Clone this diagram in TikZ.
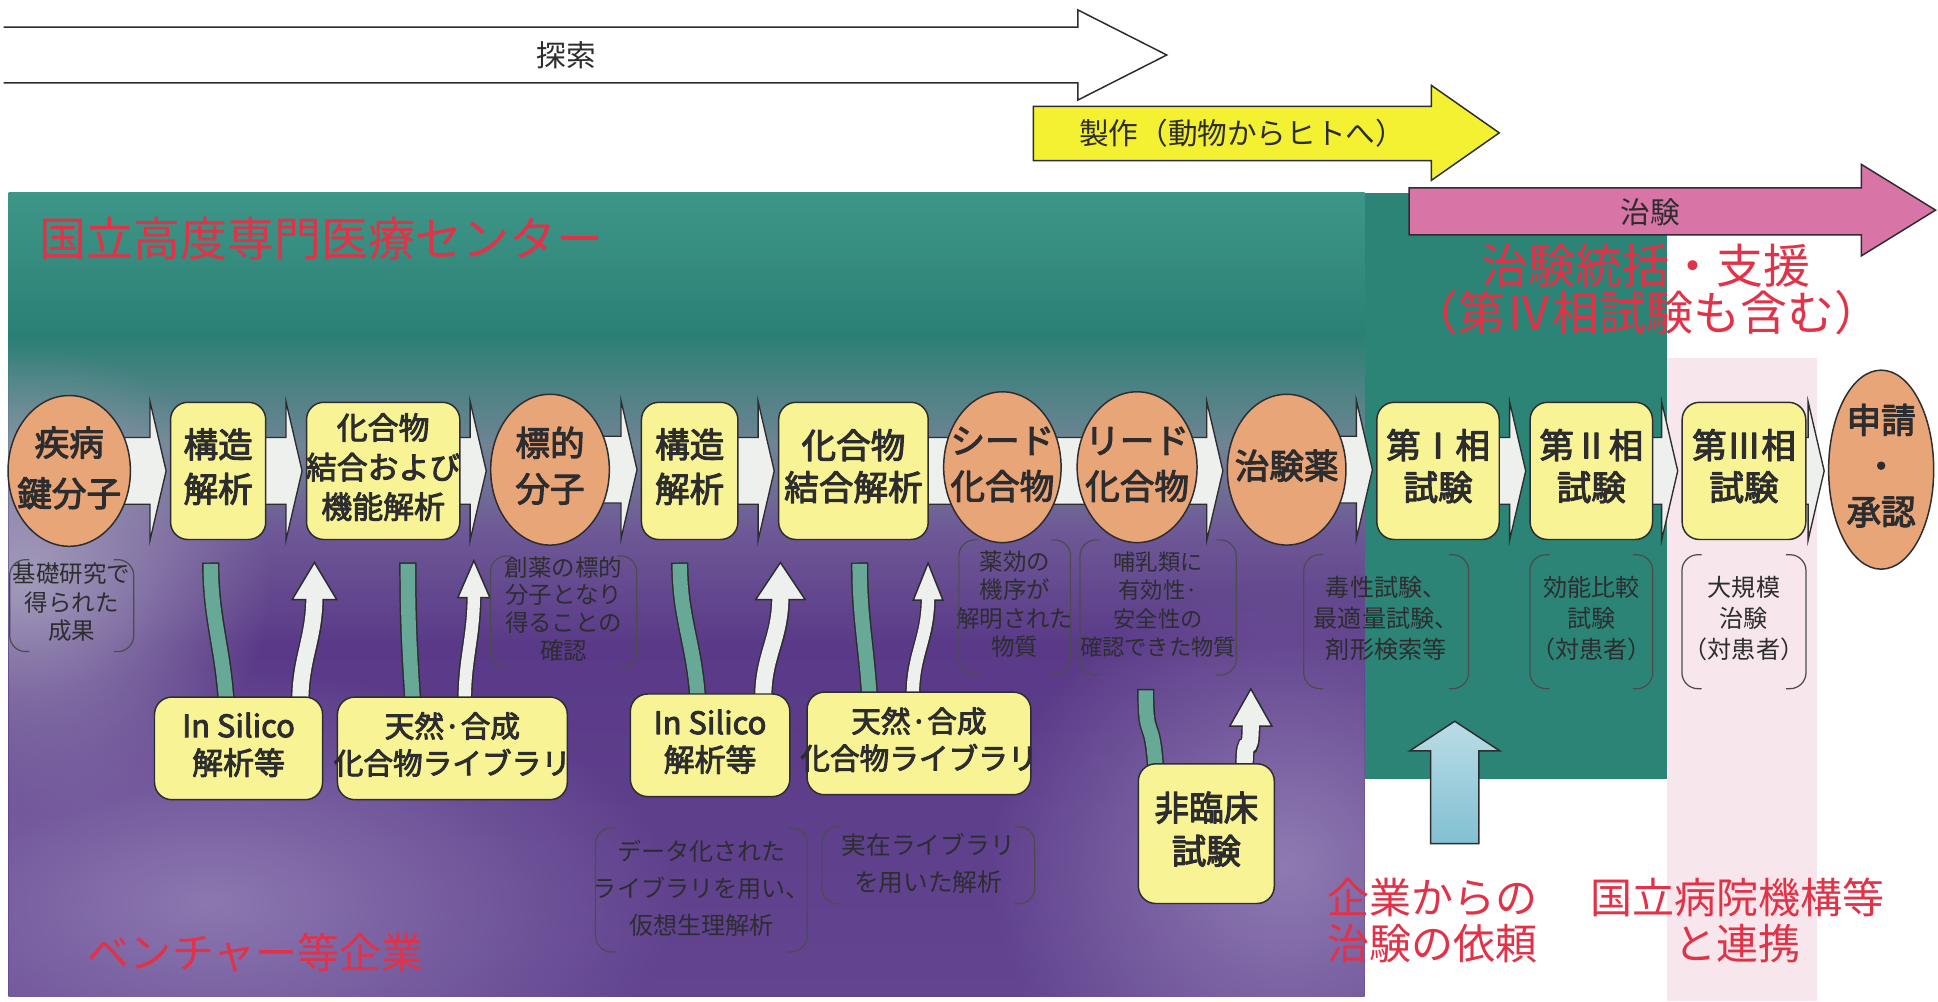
\documentclass[tikz,border=0pt]{standalone}
\usepackage{fontspec}
\newfontfamily\jp{Noto Sans CJK JP}
\newfontfamily\jpm[FakeBold=3]{Noto Sans CJK JP}
\usetikzlibrary{calc,fadings,shapes.geometric}

\definecolor{ink}{RGB}{45,45,48}
\definecolor{tealtop}{RGB}{62,150,136}
\definecolor{tealbg}{RGB}{42,128,116}
\definecolor{graybg}{RGB}{112,132,148}
\definecolor{lavbg}{RGB}{110,88,150}
\definecolor{purpbg}{RGB}{90,58,136}
\definecolor{purpbg2}{RGB}{98,68,144}
\definecolor{lavgray}{RGB}{178,176,198}
\definecolor{lavlt}{RGB}{155,138,188}
\definecolor{tealcol}{RGB}{44,132,118}
\definecolor{pinkbg}{RGB}{247,230,235}
\definecolor{nodeyel}{RGB}{248,244,150}
\definecolor{nodeorg}{RGB}{232,165,120}
\definecolor{arryel}{RGB}{244,240,50}
\definecolor{arrpink}{RGB}{216,116,166}
\definecolor{bandteal}{RGB}{104,168,150}
\definecolor{chevwhite}{RGB}{238,240,238}
\definecolor{reqblue}{RGB}{130,192,210}
\definecolor{redtxt}{RGB}{225,50,72}

\pgfdeclarelayer{back}
\pgfdeclarelayer{mid}
\pgfsetlayers{back,mid,main}

\tikzfading[name=blob, inner color=transparent!0, outer color=transparent!100]

% text block of zero width, so that the shape keeps its own size
\newcommand\ctext[1]{\makebox[0pt]{\begin{tabular}{@{}c@{}}#1\end{tabular}}}
% wide white chevron between two nodes of the main row
\newcommand\chev[2]{%
  \draw[chev] let \p1=(#1.east), \p2=(#2.west) in
    (\x1-14pt,\y1+27pt) -- (\x2-16pt,\y1+27pt) -- (\x2-16pt,\y1+56pt) -- (\x2-3pt,\y1)
    -- (\x2-16pt,\y1-56pt) -- (\x2-16pt,\y1-27pt) -- (\x1-14pt,\y1-27pt) -- cycle;}
% bracket pair round a note
\newcommand\brk[1]{%
  \draw[brk] ($(#1.north west)+(16,0)$) -- (#1.north west) -- (#1.south west) -- ($(#1.south west)+(16,0)$);
  \draw[brk] ($(#1.north east)+(-16,0)$) -- (#1.north east) -- (#1.south east) -- ($(#1.south east)+(-16,0)$);}
% teal band going down into a box
\newcommand\band[2]{%
  \draw[bandout] #1 .. controls +(0,45) and +(-3,-45) .. #2;
  \draw[bandin] #1 .. controls +(0,45) and +(-3,-45) .. #2;}
% white arrow coming up out of a box
\newcommand\uparr[4]{% foot, tip, head half width, shaft width
  \draw[draw=ink,line width=#4+2.4pt] #1 .. controls +(0,-35) and +(0,35) .. ($#2+(0,28)$);
  \filldraw[draw=ink,fill=chevwhite,line width=1.2pt,line join=miter] #2 -- ($#2+(#3,30)$) -- ($#2+(-#3,30)$) -- cycle;
  \draw[draw=chevwhite,line width=#4] #1 .. controls +(0,-35) and +(0,35) .. ($#2+(0,27)$);}

\begin{document}
\begin{tikzpicture}[x=1pt,y=-1pt,line join=round,font=\jp,
  ell/.style={ellipse,draw=ink,line width=1.2pt,fill=nodeorg,minimum height=122pt,inner sep=0pt,
    text=ink,font=\jpm\fontsize{28}{37}\selectfont},
  box/.style={rectangle,rounded corners=14pt,draw=ink,line width=1.2pt,fill=nodeyel,minimum height=111pt,
    inner sep=0pt,text=ink,font=\jpm\fontsize{28}{36}\selectfont},
  sub/.style={box,minimum height=83pt,font=\jpm\fontsize{25}{30}\selectfont},
  desc/.style={rectangle,inner sep=0pt,text=ink,font=\jp\fontsize{19}{23}\selectfont},
  brk/.style={draw=ink!85,line width=1pt,rounded corners=13pt},
  chev/.style={draw=ink,line width=1.1pt,fill=chevwhite,line join=miter},
  redlbl/.style={text=redtxt,align=center,inner sep=0pt,font=\jp\fontsize{34}{37}\selectfont},
  toplbl/.style={text=ink,inner sep=0pt,font=\jp\fontsize{24}{24}\selectfont},
  bandout/.style={draw=ink,line width=14pt},
  bandin/.style={draw=bandteal,line width=11.6pt,shorten <=1.2pt},
  bigarr/.style={draw=ink,line width=1.2pt,line join=miter}]

\useasboundingbox (0,0) rectangle (1568,810);

% background areas
\begin{pgfonlayer}{back}
  \fill[white] (0,0) rectangle (1568,810);
  \shade[top color=tealtop,bottom color=tealbg] (7,156) rectangle (1104,271);
  \shade[top color=tealbg,bottom color=graybg] (7,270) rectangle (1104,361);
  \shade[top color=graybg,bottom color=lavbg] (7,360) rectangle (1104,431);
  \shade[top color=lavbg,bottom color=purpbg] (7,430) rectangle (1104,521);
  \shade[top color=purpbg,bottom color=purpbg2] (7,520) rectangle (1104,806);
  \begin{scope}
    \clip (7,156) rectangle (1104,806);
    \fill[lavgray,path fading=blob,fill opacity=.8] (20,470) ellipse (200pt and 190pt);
    \fill[lavlt,path fading=blob,fill opacity=.75] (170,730) ellipse (380pt and 190pt);
    \fill[lavlt,path fading=blob,fill opacity=.8] (1040,700) ellipse (240pt and 230pt);
  \end{scope}
  \fill[tealcol] (1104,156) rectangle (1349,630);
  \fill[pinkbg] (1349,290) rectangle (1470,810);
\end{pgfonlayer}

% stage arrows
\draw[bigarr,fill=white] (3,22) -- (872,22) -- (872,8) -- (944,44.5) -- (872,81) -- (872,67) -- (3,67);
\node[toplbl] (explore) at (458,45) {探索};
\draw[bigarr,fill=arryel] (836,86) -- (1158,86) -- (1158,69) -- (1213,107.5) -- (1158,146) -- (1158,130) -- (836,130) -- cycle;
\node[toplbl] (make) at (1005,108) {製作（動物からヒトへ）};
\draw[bigarr,fill=arrpink] (1140,152) -- (1506,152) -- (1506,133) -- (1566,170) -- (1506,207) -- (1506,190) -- (1140,190) -- cycle;
\node[toplbl] (trial) at (1335,172) {治験};

% red captions
\node[redlbl,font=\jp\fontsize{38}{40}\selectfont] (ncc) at (260,193) {国立高度専門医療センター};
\node[redlbl,font=\jp\fontsize{38}{38}\selectfont] (sup) at (1332,234) {治験統括・支援\\（第Ⅳ相試験も含む）};
\node[redlbl] (vent) at (207,771) {ベンチャー等企業};
\node[redlbl] (req) at (1159,745) {企業からの\\治験の依頼};
\node[redlbl] (nho) at (1406,745) {国立病院機構等\\と連携};

% main row
\node[ell,minimum width=99pt,font=\jpm\fontsize{28}{41}\selectfont] (n1) at (56,381) {\ctext{疾病\\鍵分子}};
\node[box,minimum width=77pt] (n2) at (176.5,381) {\ctext{構造\\解析}};
\node[box,minimum width=124pt,font=\jpm\fontsize{25}{32}\selectfont] (n3) at (310,381) {\ctext{化合物\\結合および\\機能解析}};
\node[ell,minimum width=96pt] (n4) at (445,380) {\ctext{標的\\分子}};
\node[box,minimum width=78pt] (n5) at (558,381) {\ctext{構造\\解析}};
\node[box,minimum width=121pt,font=\jpm\fontsize{28}{34}\selectfont] (n6) at (690.5,381) {\ctext{化合物\\結合解析}};
\node[ell,minimum width=95pt] (n7) at (811,378) {\ctext{シード\\化合物}};
\node[ell,minimum width=97pt] (n8) at (920,378) {\ctext{リード\\化合物}};
\node[ell,minimum width=96pt] (n9) at (1041,380) {\ctext{治験薬}};
\node[box,minimum width=99pt,font=\jpm\fontsize{28}{34}\selectfont] (n10) at (1163.5,381) {\ctext{第Ⅰ相\\試験}};
\node[box,minimum width=99pt,font=\jpm\fontsize{28}{34}\selectfont] (n11) at (1287.5,381) {\ctext{第Ⅱ相\\試験}};
\node[box,minimum width=100pt,font=\jpm\fontsize{28}{34}\selectfont] (n12) at (1411,381) {\ctext{第Ⅲ相\\試験}};
\node[ell,minimum width=85pt,minimum height=161pt] (n13) at (1522,380) {\ctext{申請\\・\\承認}};

% notes under the row
\node[desc,minimum width=100pt,minimum height=74pt] (d1) at (58,490) {\ctext{基礎研究で\\得られた\\成果}};
\node[desc,minimum width=118pt,minimum height=86pt,font=\jp\fontsize{19}{22}\selectfont] (d2) at (456,495) {\ctext{創薬の標的\\分子となり\\得ることの\\確認}};
\node[desc,minimum width=90pt,minimum height=109pt] (d3) at (821,491.5) {\ctext{薬効の\\機序が\\解明された\\物質}};
\node[desc,minimum width=126pt,minimum height=109pt,font=\jp\fontsize{18}{23}\selectfont] (d4) at (937,491.5) {\ctext{哺乳類に\\有効性·\\安全性の\\確認できた物質}};
\node[desc,minimum width=133pt,minimum height=108pt,font=\jp\fontsize{19.5}{25}\selectfont] (d5) at (1121.5,503) {\ctext{毒性試験、\\最適量試験、\\剤形検索等}};
\node[desc,minimum width=99pt,minimum height=108pt,font=\jp\fontsize{19.5}{25}\selectfont] (d6) at (1287.5,503) {\ctext{効能比較\\試験\\（対患者）}};
\node[desc,minimum width=100pt,minimum height=108pt,font=\jp\fontsize{19.5}{25}\selectfont] (d7) at (1411,503) {\ctext{大規模\\治験\\（対患者）}};
\node[desc,minimum width=171pt,minimum height=100pt,font=\jp\fontsize{19.5}{30}\selectfont] (d8) at (567.5,720) {\ctext{データ化された\\ライブラリを用い、\\仮想生理解析}};
\node[desc,minimum width=172pt,minimum height=62pt,font=\jp\fontsize{20}{30}\selectfont] (d9) at (751,700) {\ctext{実在ライブラリ\\を用いた解析}};
\foreach \d in {d1,d2,d3,d4,d5,d6,d7,d8,d9} {\brk{\d}}

% lower boxes
\node[sub,minimum width=136pt] (s1) at (193,605.5) {\ctext{In Silico\\解析等}};
\node[sub,minimum width=186pt,font=\jpm\fontsize{24}{30}\selectfont] (t1) at (366,605.5) {\ctext{天然·合成\\化合物ライブラリ}};
\node[sub,minimum width=129pt] (s2) at (574.5,603) {\ctext{In Silico\\解析等}};
\node[sub,minimum width=181pt,font=\jpm\fontsize{24}{30}\selectfont] (t2) at (743.5,601.5) {\ctext{天然·合成\\化合物ライブラリ}};
\node[sub,minimum width=110pt,minimum height=113pt,font=\jpm\fontsize{28}{35}\selectfont] (nr) at (976,674.5) {\ctext{非臨床\\試験}};

% connectors
\begin{pgfonlayer}{mid}
  \foreach \a/\b in {n1/n2,n2/n3,n3/n4,n4/n5,n5/n6,n6/n9,n9/n10,n10/n11,n11/n12,n12/n13} {\chev{\a}{\b}}
  % out of the row and back again
  \band{($(n2.south)+(-6,18)$)}{($(s1.north)+(-10,4)$)}
  \coordinate (f1) at ($(s1.north)+(50,4)$);
  \coordinate (h1) at ($(n3.south west)+(7,18)$);
  \uparr{(f1)}{(h1)}{18}{13}
  \band{($(n3.south)+(20,18)$)}{($(t1.north)+(-32,4)$)}
  \coordinate (f2) at ($(t1.north)+(10,4)$);
  \coordinate (h2) at ($(n4.west |- n4.south)+(-13,12)$);
  \uparr{(f2)}{(h2)}{13}{10}
  \band{($(n5.south)+(-8,18)$)}{($(s2.north)+(-10,4)$)}
  \coordinate (f3) at ($(s2.north)+(43,4)$);
  \coordinate (h3) at ($(n6.south west)+(2,18)$);
  \uparr{(f3)}{(h3)}{20}{13}
  \band{($(n6.south)+(5,18)$)}{($(t2.north)+(-40,4)$)}
  \coordinate (f4) at ($(t2.north)+(-5,4)$);
  \coordinate (h4) at ($(n7.west |- n7.south)+(-12,16)$);
  \uparr{(f4)}{(h4)}{12}{10}
  \band{($(nr.north)+(-49,-60)$)}{($(nr.north)+(-41,4)$)}
  \coordinate (f5) at ($(nr.north)+(31,4)$);
  \coordinate (h5) at ($(nr.north)+(36,-60)$);
  \uparr{(f5)}{(h5)}{17}{13}
  % request from industry
  \coordinate (rq) at ($(req.north)+(18,-28)$);
  \draw[bigarr,top color=reqblue!55!white,bottom color=reqblue] (rq) ++(-19.5,0) -- ++(0,-75) -- ++(-17,0)
    -- ++(36.5,-24) -- ++(36.5,24) -- ++(-17,0) -- ++(0,75) -- cycle;
\end{pgfonlayer}
\end{tikzpicture}
\end{document}
